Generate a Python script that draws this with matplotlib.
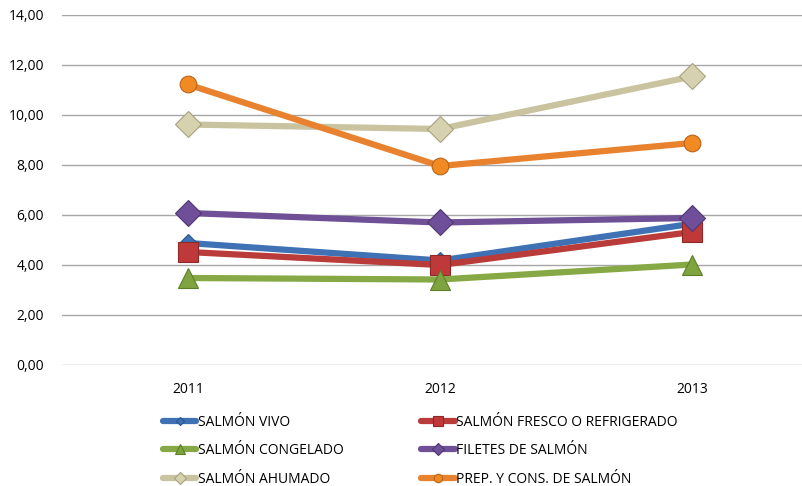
import matplotlib
matplotlib.use("Agg")
import matplotlib.pyplot as plt

years = ["2011", "2012", "2013"]
series_names = ["SALMÓN VIVO", "SALMÓN FRESCO O REFRIGERADO", "SALMÓN CONGELADO",
                "FILETES DE SALMÓN", "SALMÓN AHUMADO", "PREP. Y CONS. DE SALMÓN"]
vivo = [4.88, 4.18, 5.65]
fresco = [4.52, 4.00, 5.32]
congelado = [3.48, 3.42, 4.02]
filetes = [6.08, 5.70, 5.88]
ahumado = [9.62, 9.44, 11.54]
prep = [11.22, 7.96, 8.88]
yticks = [0, 2, 4, 6, 8, 10, 12, 14]

values = [vivo, fresco, congelado, filetes, ahumado, prep]
line_colors = ["#3f72b5", "#b93c3a", "#86a845", "#6f4f96", "#c9c3a0", "#e8822e"]
marker_face = ["#3f72b5", "#c0393a", "#7fa33e", "#6f4f99", "#d6d2b0", "#f28a24"]
marker_edge = ["#2c5590", "#8c2826", "#5e7e2a", "#4f3673", "#a8a280", "#b8641a"]
markers = ["D", "s", "^", "D", "D", "o"]
msizes = [9, 15, 15, 13, 13, 12]

plt.rcParams['font.family'] = ['Open Sans', 'DejaVu Sans']

fig = plt.figure(figsize=(8.03, 4.86), dpi=100)
ax = fig.add_axes([62/803, 1-365/486, (803-62)/803, 350/486])

x = list(range(len(years)))
handles = []
for vals, name, lc, mf, me, mk, ms in zip(values, series_names, line_colors,
                                           marker_face, marker_edge, markers, msizes):
    h, = ax.plot(x, vals, color=lc, lw=4.5, marker=mk, markersize=ms,
                 markerfacecolor=mf, markeredgecolor=me, markeredgewidth=0.8,
                 label=name, solid_capstyle='round', zorder=3)
    handles.append(h)

ax.set_xlim(-0.5, 2.44)
ax.set_ylim(0, 14)
ax.set_yticks(yticks)
ax.set_yticklabels([f"{v:.2f}".replace(".", ",") for v in yticks])
ax.set_xticks(x)
ax.set_xticklabels(years)
ax.grid(axis='y', color='#a6a6a6', lw=1)
ax.set_axisbelow(True)
for s in ax.spines.values():
    s.set_visible(False)
ax.tick_params(axis='both', length=0, labelsize=10, colors='#000000')
ax.tick_params(axis='y', pad=13)
ax.tick_params(axis='x', pad=12)

# legend ordering: row-wise two columns
order = [0, 2, 4, 1, 3, 5]
leg = fig.legend([handles[i] for i in order], [series_names[i] for i in order],
                 ncol=2, loc='upper left', bbox_to_anchor=(152/803, 1-404/486),
                 frameon=False, fontsize=10, handlelength=2.4, columnspacing=5.6,
                 labelspacing=0.95, handletextpad=0.1, markerscale=0.5,
                 borderpad=0.3)
fig.savefig("out.png", dpi=100)
